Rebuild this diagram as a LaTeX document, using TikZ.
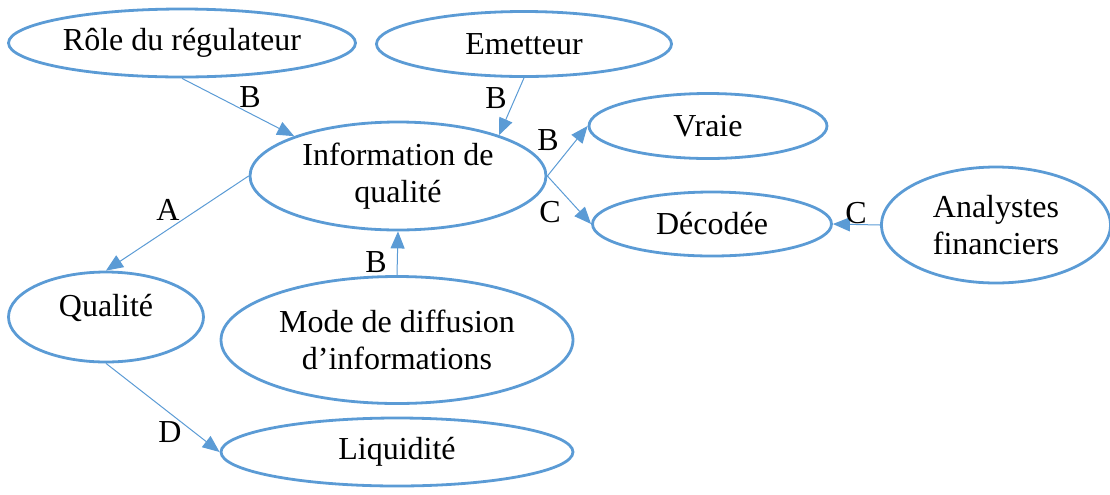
\documentclass[tikz,border=0pt]{standalone}
\usepackage{fontspec}
\setmainfont{Liberation Serif}
\usetikzlibrary{shapes.geometric, arrows.meta}
\definecolor{bleu}{RGB}{91,155,213}
\tikzset{
  bulle/.style={ellipse, draw=bleu, line width=1.4pt, align=center,
    inner sep=0pt, font=\fontsize{16}{18.5}\selectfont},
  lien/.style={-{Triangle[length=8.5pt,width=7pt]}, color=bleu, line width=0.5pt},
  lettre/.style={inner sep=0pt, font=\fontsize{16}{18}\selectfont}
}
\begin{document}
\begin{tikzpicture}[x=0.5pt, y=-0.5pt]
  \useasboundingbox (0,0) rectangle (1110,494);

  % ellipses
  \node[bulle, minimum width=173.5pt, minimum height=34pt] (role) at (182,43) {Rôle du régulateur};
  \node[bulle, minimum width=147.5pt, minimum height=32.5pt] (emetteur) at (524,44) {Emetteur};
  \node[bulle, minimum width=148pt, minimum height=54pt] (info) at (398,176) {Information de\\qualité};
  \node[bulle, minimum width=119pt, minimum height=32.5pt] (vraie) at (708,126) {Vraie};
  \node[bulle, minimum width=119.5pt, minimum height=32pt] (decodee) at (712,224) {Décodée};
  \node[bulle, minimum width=114.5pt, minimum height=58pt] (analystes) at (996,225) {Analystes\\financiers};
  \node[bulle, minimum width=97.5pt, minimum height=45pt, text depth=12pt] (qualite) at (106,317) {Qualité};
  \node[bulle, minimum width=176pt, minimum height=63.5pt] (mode) at (397,340) {Mode de diffusion\\d’informations};
  \node[bulle, minimum width=176pt, minimum height=34pt] (liquidite) at (397,452) {Liquidité};

  % liens
  \draw[lien] (role.south) -- (info.159);
  \draw[lien] (emetteur.south) -- (info.22);
  \draw[lien] (info.east) -- (vraie.west);
  \draw[lien] (info.east) -- (decodee.west);
  \draw[lien] (analystes.west) -- (decodee.east);
  \draw[lien] (info.west) -- (qualite.north);
  \draw[lien] (mode.north) -- (info.south);
  \draw[lien] (qualite.south) -- (liquidite.west);

  % lettres
  \node[lettre] (b1) at (250,97) {B};
  \node[lettre] (b2) at (496,98) {B};
  \node[lettre] (b3) at (548,140) {B};
  \node[lettre] (c1) at (550,212) {C};
  \node[lettre] (c2) at (856,213) {C};
  \node[lettre] (a1) at (168,210) {A};
  \node[lettre] (b4) at (376,262) {B};
  \node[lettre] (d1) at (170,432) {D};
\end{tikzpicture}
\end{document}
